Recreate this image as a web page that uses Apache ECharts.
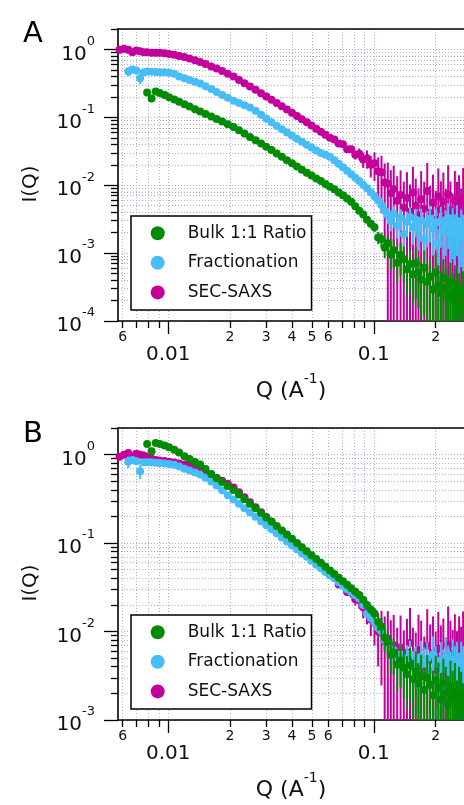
<!DOCTYPE html>
<html>
<head>
<meta charset="utf-8">
<script src="https://cdn.jsdelivr.net/npm/echarts@6/dist/echarts.min.js"></script>
</head>
<body style="margin:0">
<div id="container" style="width:464px;height:805px"></div>
<script>
var FONT = 'DejaVu Sans';

// scattering vector Q (A^-1), shared by every curve
var q = [
  0.0058, 0.0061, 0.0064, 0.0067, 0.0070, 0.0073, 0.0076, 0.0079, 0.0083, 0.0087,
  0.0091, 0.0096, 0.0101, 0.0107, 0.0113, 0.0120, 0.0127, 0.0135, 0.0143, 0.0152,
  0.0162, 0.0172, 0.0183, 0.0195, 0.0208, 0.0221, 0.0235, 0.0250, 0.0266, 0.0283,
  0.0300, 0.0318, 0.0337, 0.0357, 0.0378, 0.0400, 0.0423, 0.0447, 0.0472, 0.0498,
  0.0525, 0.0553, 0.0582, 0.0612, 0.0643, 0.0675, 0.0708, 0.0742, 0.0777, 0.0813,
  0.0850, 0.0888, 0.0927, 0.0967, 0.1008, 0.105, 0.109, 0.113, 0.117, 0.121,
  0.125, 0.130, 0.135, 0.140, 0.145, 0.150, 0.155, 0.160, 0.165, 0.170,
  0.176, 0.182, 0.188, 0.194, 0.200, 0.206, 0.212, 0.218, 0.224, 0.230,
  0.236, 0.242, 0.248, 0.254, 0.260, 0.266, 0.272
];

// panel A intensities
var bulkA = [
  null, null, null, null, null, null, null, 0.233, 0.19, 0.241,
  0.229, 0.213, 0.198, 0.183, 0.170, 0.156, 0.144, 0.132, 0.122, 0.112,
  0.103, 0.0945, 0.0867, 0.0793, 0.0721, 0.0646, 0.0577, 0.0515, 0.046, 0.0411,
  0.0369, 0.0329, 0.0294, 0.0262, 0.0234, 0.0210, 0.0188, 0.0169, 0.0153, 0.0139,
  0.0126, 0.0115, 0.0104, 0.0095, 0.0087, 0.0078, 0.0071, 0.0064, 0.0057, 0.0049,
  0.0042, 0.0037, 0.0031, 0.0027, 0.0024, 0.0017, 0.0016, 0.0012, 0.0014, 0.00095,
  0.0011, 0.00072, 0.00094, 0.00081, 0.00058, 0.00069, 0.00049, 0.00071, 0.00052, 0.00041,
  0.00061, 0.00038, 0.00045, 0.00029, 0.00052, 0.00034, 0.00026, 0.00043, 0.00031, 0.00022,
  0.00037, 0.00025, 0.00019, 0.00032, 0.00024, 0.00016, 0.00027
];
var fracA = [
  null, null, 0.475, 0.508, 0.49, 0.375, 0.463, 0.475, 0.47, 0.465,
  0.462, 0.46, 0.453, 0.437, 0.401, 0.376, 0.356, 0.334, 0.315, 0.287,
  0.261, 0.237, 0.214, 0.194, 0.175, 0.162, 0.150, 0.139, 0.125, 0.109,
  0.096, 0.0846, 0.0748, 0.0669, 0.0599, 0.0537, 0.0482, 0.0435, 0.0394, 0.0359,
  0.0326, 0.0299, 0.0280, 0.0262, 0.0234, 0.0207, 0.0184, 0.0163, 0.0145, 0.0129,
  0.0115, 0.0102, 0.0090, 0.0079, 0.0069, 0.0060, 0.0051, 0.0042, 0.0036, 0.0030,
  0.0038, 0.0025, 0.0033, 0.0019, 0.0029, 0.0034, 0.0024, 0.0031, 0.0022, 0.0030,
  0.0016, 0.0027, 0.0032, 0.0023, 0.0028, 0.0014, 0.0030, 0.0021, 0.0026, 0.0033,
  0.0019, 0.0027, 0.0022, 0.0030, 0.0017, 0.0025, 0.0021
];
var secA = [
  0.987, 1.02, 0.993, 0.912, 0.966, 0.94, 0.912, 0.906, 0.897, 0.894,
  0.894, 0.876, 0.856, 0.833, 0.803, 0.771, 0.736, 0.692, 0.653, 0.608,
  0.563, 0.524, 0.48, 0.439, 0.398, 0.356, 0.318, 0.284, 0.254, 0.226,
  0.203, 0.182, 0.162, 0.145, 0.130, 0.117, 0.105, 0.094, 0.0845, 0.076,
  0.068, 0.0615, 0.0556, 0.0502, 0.047, 0.041, 0.040, 0.034, 0.034, 0.028,
  0.029, 0.024, 0.025, 0.020, 0.021, 0.016, 0.0155, 0.011, 0.0105, 0.0076,
  0.0088, 0.0059, 0.0072, 0.0047, 0.0065, 0.0041, 0.0078, 0.0050, 0.0036, 0.0062,
  0.0045, 0.0082, 0.0039, 0.0055, 0.0031, 0.0068, 0.0044, 0.0057, 0.0034, 0.0073,
  0.0042, 0.0029, 0.0060, 0.0040, 0.0052, 0.0033, 0.0064
];

// panel B intensities
var bulkB = [
  null, null, null, null, null, null, null, 1.32, 1.09, 1.357,
  1.318, 1.268, 1.211, 1.133, 1.055, 0.961, 0.89, 0.828, 0.774, 0.686,
  0.602, 0.54, 0.489, 0.443, 0.398, 0.354, 0.314, 0.279, 0.247, 0.219,
  0.195, 0.175, 0.156, 0.139, 0.125, 0.112, 0.100, 0.090, 0.081, 0.073,
  0.066, 0.060, 0.054, 0.049, 0.0446, 0.0406, 0.037, 0.0337, 0.0308, 0.0282,
  0.0259, 0.0229, 0.0200, 0.0178, 0.0160, 0.0128, 0.0114, 0.0085, 0.0076, 0.0055,
  0.0058, 0.0042, 0.0047, 0.0039, 0.0033, 0.0041, 0.0029, 0.0035, 0.0026, 0.0031,
  0.0022, 0.0030, 0.0025, 0.0019, 0.0028, 0.0023, 0.0017, 0.0026, 0.0020, 0.0015,
  0.0024, 0.0018, 0.0021, 0.0014, 0.0019, 0.0016, 0.0013
];
var fracB = [
  null, null, 0.83, 0.87, 0.84, 0.647, 0.818, 0.818, 0.818, 0.81,
  0.805, 0.795, 0.782, 0.767, 0.732, 0.694, 0.661, 0.626, 0.596, 0.547,
  0.498, 0.449, 0.395, 0.348, 0.311, 0.278, 0.248, 0.222, 0.198, 0.177,
  0.159, 0.143, 0.129, 0.116, 0.104, 0.094, 0.085, 0.077, 0.070, 0.063,
  0.057, 0.052, 0.047, 0.043, 0.040, 0.036, 0.033, 0.030, 0.028, 0.0257,
  0.0237, 0.020, 0.0159, 0.0142, 0.0127, 0.0110, 0.0101, 0.0080, 0.0074, 0.0058,
  0.0062, 0.0046, 0.0053, 0.0041, 0.0050, 0.0056, 0.0039, 0.0047, 0.0024, 0.0052,
  0.0044, 0.0049, 0.0036, 0.0055, 0.0043, 0.0012, 0.0047, 0.0038, 0.0051, 0.0042,
  0.0035, 0.0048, 0.0040, 0.0045, 0.0033, 0.0044, 0.0039
];
var secB = [
  0.946, 1.0, 1.042, 0.957, 1.026, 0.998, 0.975, 0.941, 0.899, 0.872,
  0.861, 0.847, 0.833, 0.813, 0.796, 0.774, 0.754, 0.724, 0.673, 0.623,
  0.58, 0.545, 0.508, 0.468, 0.426, 0.375, 0.33, 0.289, 0.254, 0.223,
  0.197, 0.174, 0.154, 0.137, 0.121, 0.1075, 0.0956, 0.0851, 0.0759, 0.0678,
  0.0607, 0.0544, 0.0488, 0.0439, 0.041, 0.034, 0.0335, 0.028, 0.0275, 0.0232,
  0.0226, 0.0188, 0.0172, 0.0137, 0.0126, 0.0101, 0.0098, 0.0078, 0.0083, 0.0061,
  0.0070, 0.0048, 0.0066, 0.0043, 0.0058, 0.0074, 0.0046, 0.0039, 0.0062, 0.0051,
  0.0035, 0.0069, 0.0048, 0.0057, 0.0037, 0.0064, 0.0045, 0.0052, 0.0033, 0.0071,
  0.0049, 0.0040, 0.0058, 0.0036, 0.0055, 0.0042, 0.0060
];

// relative error bar half-lengths (same for both panels)
var bulkErr = [
  0, 0, 0, 0, 0, 0, 0, 0.04, 0.1, 0.04,
  0.03, 0.03, 0.03, 0.03, 0.03, 0.03, 0.03, 0.03, 0.03, 0.03,
  0.03, 0.03, 0.03, 0.03, 0.03, 0.03, 0.03, 0.03, 0.03, 0.03,
  0.03, 0.03, 0.03, 0.03, 0.03, 0.03, 0.03, 0.03, 0.03, 0.03,
  0.03, 0.03, 0.03, 0.03, 0.03, 0.04, 0.04, 0.05, 0.05, 0.06,
  0.07, 0.08, 0.1, 0.12, 0.15, 0.2, 0.25, 0.3, 0.35, 0.4,
  0.45, 0.5, 0.5, 0.55, 0.6, 0.6, 0.65, 0.7, 0.7, 0.75,
  0.8, 0.8, 0.85, 0.9, 0.9, 0.95, 1.0, 0.9, 1.0, 1.1,
  0.95, 1.0, 1.1, 1.0, 1.1, 1.2, 1.0
];
var fracErr = [
  0, 0, 0.15, 0.1, 0.08, 0.18, 0.04, 0.03, 0.03, 0.03,
  0.02, 0.02, 0.02, 0.02, 0.02, 0.02, 0.02, 0.02, 0.02, 0.02,
  0.02, 0.02, 0.02, 0.02, 0.02, 0.02, 0.02, 0.02, 0.02, 0.02,
  0.02, 0.02, 0.02, 0.02, 0.02, 0.02, 0.02, 0.02, 0.02, 0.02,
  0.02, 0.02, 0.02, 0.02, 0.02, 0.03, 0.03, 0.03, 0.04, 0.04,
  0.05, 0.06, 0.07, 0.08, 0.1, 0.12, 0.15, 0.2, 0.25, 0.3,
  0.3, 0.35, 0.35, 0.4, 0.4, 0.4, 0.45, 0.45, 0.5, 0.5,
  0.5, 0.55, 0.55, 0.6, 0.6, 0.6, 0.6, 0.65, 0.65, 0.65,
  0.7, 0.7, 0.7, 0.7, 0.75, 0.75, 0.75
];
var secErr = [
  0.05, 0.05, 0.04, 0.04, 0.03, 0.03, 0.03, 0.02, 0.02, 0.02,
  0.02, 0.02, 0.02, 0.02, 0.02, 0.02, 0.02, 0.02, 0.02, 0.02,
  0.02, 0.02, 0.02, 0.02, 0.02, 0.02, 0.02, 0.02, 0.02, 0.02,
  0.02, 0.02, 0.02, 0.02, 0.02, 0.02, 0.02, 0.02, 0.02, 0.02,
  0.02, 0.02, 0.03, 0.04, 0.05, 0.06, 0.08, 0.1, 0.12, 0.15,
  0.2, 0.25, 0.3, 0.35, 0.45, 0.6, 0.75, 0.9, 1.05, 1.2,
  1.2, 1.3, 1.3, 1.4, 1.4, 1.5, 1.4, 1.5, 1.5, 1.6,
  1.5, 1.6, 1.5, 1.6, 1.7, 1.6, 1.6, 1.7, 1.6, 1.7,
  1.7, 1.6, 1.7, 1.8, 1.7, 1.7, 1.8
];

var names = ['Bulk 1:1 Ratio', 'Fractionation', 'SEC-SAXS'];
var colors = ['#008c00', '#47bdf5', '#c4009c'];

// axis ranges and tick values
var xRange = [0.0057, 0.2747];
var xMajorTicks = [0.01, 0.1];
var xMinorTicks = [0.006, 0.007, 0.008, 0.009, 0.02, 0.03, 0.04, 0.05, 0.06, 0.07, 0.08, 0.09, 0.2];
var xMinorLabels = [0.006, 0.02, 0.03, 0.04, 0.05, 0.06, 0.2];
var yRangeA = [0.0001, 2];
var yRangeB = [0.001, 2];
var yMajorA = [0.0001, 0.001, 0.01, 0.1, 1];
var yMinorA = [0.0002, 0.0003, 0.0004, 0.0005, 0.0006, 0.0007, 0.0008, 0.0009,
  0.002, 0.003, 0.004, 0.005, 0.006, 0.007, 0.008, 0.009,
  0.02, 0.03, 0.04, 0.05, 0.06, 0.07, 0.08, 0.09,
  0.2, 0.3, 0.4, 0.5, 0.6, 0.7, 0.8, 0.9, 2];
var yMajorB = [0.001, 0.01, 0.1, 1];
var yMinorB = [0.002, 0.003, 0.004, 0.005, 0.006, 0.007, 0.008, 0.009,
  0.02, 0.03, 0.04, 0.05, 0.06, 0.07, 0.08, 0.09,
  0.2, 0.3, 0.4, 0.5, 0.6, 0.7, 0.8, 0.9, 2];

var gridLine = { color: '#acacE4', width: 1, type: [1, 2] };
var blackLine = { color: '#000', width: 1.6 };
var tickLine = { color: '#000', width: 1.3 };

function points(vals, rel, yMin) {
  var out = [];
  for (var i = 0; i < q.length; i++) {
    if (vals[i] == null) continue;
    var e = vals[i] * rel[i];
    out.push([q[i], vals[i], Math.max(vals[i] - e, yMin), vals[i] + e]);
  }
  return out;
}

function errorBarRenderer(color) {
  return function (params, api) {
    var c = api.coord([api.value(0), api.value(1)]);
    var lo = api.coord([api.value(0), api.value(2)]);
    var hi = api.coord([api.value(0), api.value(3)]);
    return {
      type: 'group',
      children: [
        { type: 'line', shape: { x1: c[0], y1: lo[1], x2: c[0], y2: hi[1] }, style: { stroke: color, lineWidth: 2 } },
        { type: 'circle', shape: { cx: c[0], cy: c[1], r: 4 }, style: { fill: color } }
      ]
    };
  };
}

function xAxes(gi) {
  return [
    {
      type: 'log', gridIndex: gi, position: 'bottom', min: xRange[0], max: xRange[1],
      axisLine: { lineStyle: blackLine },
      axisTick: { customValues: xMajorTicks, length: 13, lineStyle: tickLine },
      axisLabel: { customValues: xMajorTicks, margin: 24, fontSize: 20, fontFamily: FONT, color: '#111',
        formatter: function (v) { return String(v); } },
      splitLine: { show: true, lineStyle: gridLine },
      name: '{b|Q (A}{s|-1}{b|)}', nameLocation: 'middle', nameGap: 51,
      nameTextStyle: {
        rich: {
          b: { fontSize: 22, fontFamily: FONT, color: '#111', lineHeight: 30, height: 22, verticalAlign: 'bottom' },
          s: { fontSize: 14, fontFamily: FONT, color: '#111', lineHeight: 14, height: 14, verticalAlign: 'top' }
        }
      }
    },
    {
      type: 'log', gridIndex: gi, position: 'bottom', min: xRange[0], max: xRange[1],
      axisLine: { show: false },
      axisTick: { customValues: xMinorTicks, length: 7, lineStyle: tickLine },
      axisLabel: { customValues: xMinorLabels, margin: 9, fontSize: 14, fontFamily: FONT, color: '#111',
        formatter: function (v) {
          var e = Math.floor(Math.log10(v) + 1e-9);
          return String(Math.round(v / Math.pow(10, e)));
        } },
      splitLine: { show: true, lineStyle: gridLine }
    },
    {
      type: 'log', gridIndex: gi, position: 'top', min: xRange[0], max: xRange[1],
      axisLine: { lineStyle: blackLine },
      axisTick: { show: false }, axisLabel: { show: false }, splitLine: { show: false }
    }
  ];
}

function yAxes(gi, range, major, minor) {
  return [
    {
      type: 'log', gridIndex: gi, position: 'left', min: range[0], max: range[1],
      axisLine: { lineStyle: blackLine },
      axisTick: { customValues: major, length: 14, lineStyle: tickLine },
      axisLabel: {
        customValues: major, margin: 23,
        formatter: function (v) { return '{b|10}{s|' + Math.round(Math.log10(v)) + '}'; },
        rich: {
          b: { fontSize: 20, fontFamily: FONT, color: '#111', lineHeight: 30, height: 20, verticalAlign: 'bottom' },
          s: { fontSize: 13, fontFamily: FONT, color: '#111', lineHeight: 14, height: 14, verticalAlign: 'top' }
        }
      },
      splitLine: { show: true, lineStyle: gridLine },
      name: 'I(Q)', nameLocation: 'middle', nameGap: 77,
      nameTextStyle: { fontSize: 20, fontFamily: FONT, color: '#111', padding: [0, 18, 0, 0] }
    },
    {
      type: 'log', gridIndex: gi, position: 'left', min: range[0], max: range[1],
      axisLine: { show: false },
      axisTick: { customValues: minor, length: 7, lineStyle: tickLine },
      axisLabel: { show: false },
      splitLine: { show: true, lineStyle: gridLine }
    }
  ];
}

function panelSeries(xi, yi, sets, yMin) {
  // draw SEC-SAXS first so the other curves sit on top of its error bars
  var order = [2, 1, 0];
  return order.map(function (k) {
    return {
      type: 'custom', name: names[k], xAxisIndex: xi, yAxisIndex: yi,
      itemStyle: { color: colors[k] },
      renderItem: errorBarRenderer(colors[k]),
      encode: { x: 0, y: 1 },
      data: points(sets[k][0], sets[k][1], yMin)
    };
  });
}

function legendAt(top) {
  return {
    data: names, orient: 'vertical', left: 131, top: top, selectedMode: false,
    icon: 'circle', itemWidth: 14, itemHeight: 14, itemGap: 12.6,
    padding: [8.7, 5, 9, 19.7],
    backgroundColor: '#fff', borderColor: '#000', borderWidth: 1.5,
    textStyle: { fontSize: 17, fontFamily: FONT, color: '#111', lineHeight: 14, padding: [0, 0, 0, 18] }
  };
}

var dom = document.getElementById('container');
var myChart = echarts.init(dom);
var option = {
  animation: false,
  backgroundColor: '#fff',
  title: [
    { text: 'A', left: 23, top: 20, padding: 0, textStyle: { fontSize: 29, fontWeight: 'normal', fontFamily: FONT, color: '#000' } },
    { text: 'B', left: 23, top: 420, padding: 0, textStyle: { fontSize: 29, fontWeight: 'normal', fontFamily: FONT, color: '#000' } }
  ],
  legend: [legendAt(216), legendAt(615)],
  grid: [
    { left: 118, top: 29, width: 346, height: 292 },
    { left: 118, top: 428, width: 346, height: 292 }
  ],
  xAxis: xAxes(0).concat(xAxes(1)),
  yAxis: yAxes(0, yRangeA, yMajorA, yMinorA).concat(yAxes(1, yRangeB, yMajorB, yMinorB)),
  series: panelSeries(0, 0, [[bulkA, bulkErr], [fracA, fracErr], [secA, secErr]], yRangeA[0])
    .concat(panelSeries(3, 2, [[bulkB, bulkErr], [fracB, fracErr], [secB, secErr]], yRangeB[0]))
};
myChart.setOption(option);
</script>
</body>
</html>
